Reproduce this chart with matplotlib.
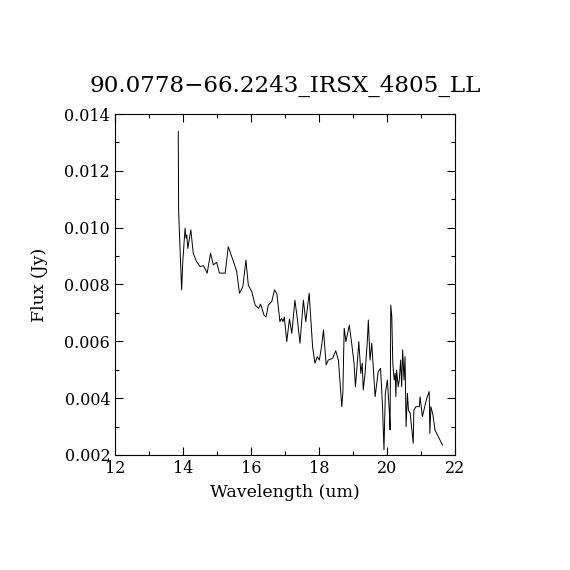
import matplotlib
matplotlib.use("Agg")
import matplotlib.pyplot as plt
from matplotlib.ticker import MultipleLocator

# spectrum
wave = [13.86, 13.87, 13.93, 13.96, 13.99, 14.06, 14.09, 14.11, 14.14, 14.23,
        14.30, 14.40, 14.50, 14.60, 14.71, 14.81, 14.89, 14.99, 15.07, 15.24,
        15.33, 15.50, 15.58, 15.66, 15.76, 15.85, 15.92, 16.02, 16.12, 16.22,
        16.28, 16.38, 16.44, 16.51, 16.61, 16.69, 16.76, 16.85, 16.90, 16.94,
        16.98, 17.05, 17.13, 17.20, 17.29, 17.36, 17.44, 17.54, 17.61, 17.71,
        17.76, 17.81, 17.88, 17.95, 18.01, 18.08, 18.13, 18.21, 18.27, 18.40,
        18.49, 18.57, 18.62, 18.67, 18.70, 18.74, 18.79, 18.89, 18.96, 19.03,
        19.07, 19.11, 19.17, 19.23, 19.27, 19.30, 19.35, 19.42, 19.45, 19.50,
        19.55, 19.65, 19.74, 19.81, 19.87, 19.91, 19.95, 20.01, 20.07, 20.09,
        20.11, 20.14, 20.17, 20.21, 20.24, 20.26, 20.28, 20.33, 20.36, 20.40,
        20.43, 20.46, 20.50, 20.53, 20.56, 20.60, 20.63, 20.68, 20.72, 20.77,
        20.79, 20.85, 20.95, 20.97, 21.04, 21.12, 21.17, 21.24, 21.26, 21.29,
        21.35, 21.41, 21.51, 21.63]
flux = [0.01338, 0.0106, 0.0087, 0.00781, 0.00875, 0.00998, 0.00963, 0.00974, 0.00927, 0.00992,
        0.00910, 0.00880, 0.00863, 0.00866, 0.00840, 0.00910, 0.00869, 0.00878, 0.00840, 0.00840,
        0.00933, 0.00875, 0.00845, 0.00769, 0.00792, 0.00886, 0.00798, 0.00775, 0.00728, 0.00716,
        0.00731, 0.00693, 0.00685, 0.00728, 0.00740, 0.00781, 0.00767, 0.00669, 0.00681, 0.00669,
        0.00685, 0.00599, 0.00678, 0.00628, 0.00745, 0.00681, 0.00593, 0.00745, 0.00669, 0.00769,
        0.00675, 0.00581, 0.00523, 0.00546, 0.00534, 0.00587, 0.00640, 0.00517, 0.00534, 0.00540,
        0.00567, 0.00534, 0.00452, 0.00370, 0.00417, 0.00646, 0.00599, 0.00657, 0.00593, 0.00523,
        0.00440, 0.00499, 0.00599, 0.00487, 0.00523, 0.00429, 0.00482, 0.00599, 0.00675, 0.00534,
        0.00593, 0.00405, 0.00493, 0.00505, 0.00364, 0.00218, 0.00417, 0.00464, 0.00347, 0.00288,
        0.00728, 0.00687, 0.00523, 0.00464, 0.00487, 0.00405, 0.00499, 0.00440, 0.00464, 0.00534,
        0.00440, 0.00570, 0.00464, 0.00546, 0.00300, 0.00417, 0.00358, 0.00347, 0.00300, 0.00241,
        0.00358, 0.00370, 0.00370, 0.00405, 0.00335, 0.00376, 0.00400, 0.00423, 0.00276, 0.00370,
        0.00341, 0.00288, 0.00264, 0.00235]

plt.rcParams['font.family'] = ['DejaVu Serif']
plt.rcParams['mathtext.fontset'] = 'dejavuserif'

fig = plt.figure(figsize=(5.7, 5.7), dpi=100)
ax = fig.add_axes([0.2018, 0.2018, 0.5965, 0.5982])
ax.plot(wave, flux, color='black', linewidth=0.7)

ax.set_xlim(12, 22)
ax.set_ylim(0.002, 0.014)
ax.xaxis.set_major_locator(MultipleLocator(2))
ax.xaxis.set_minor_locator(MultipleLocator(1))
ax.yaxis.set_major_locator(MultipleLocator(0.002))
ax.yaxis.set_minor_locator(MultipleLocator(0.001))
ax.yaxis.set_major_formatter(plt.FormatStrFormatter('%.3f'))
ax.tick_params(which='both', direction='in', top=True, right=True, width=0.8, labelsize=11.5)
ax.tick_params(which='major', length=6)
ax.tick_params(which='minor', length=3)
for s in ax.spines.values():
    s.set_linewidth(0.8)

ax.set_xlabel('Wavelength (um)', fontsize=12.5, labelpad=5)
ax.set_ylabel('Flux (Jy)', fontsize=12.5, labelpad=12)
ax.set_title('90.0778\u221266.2243_IRSX_4805_LL', fontsize=16.6, pad=16)

fig.savefig('out.png', dpi=100)
